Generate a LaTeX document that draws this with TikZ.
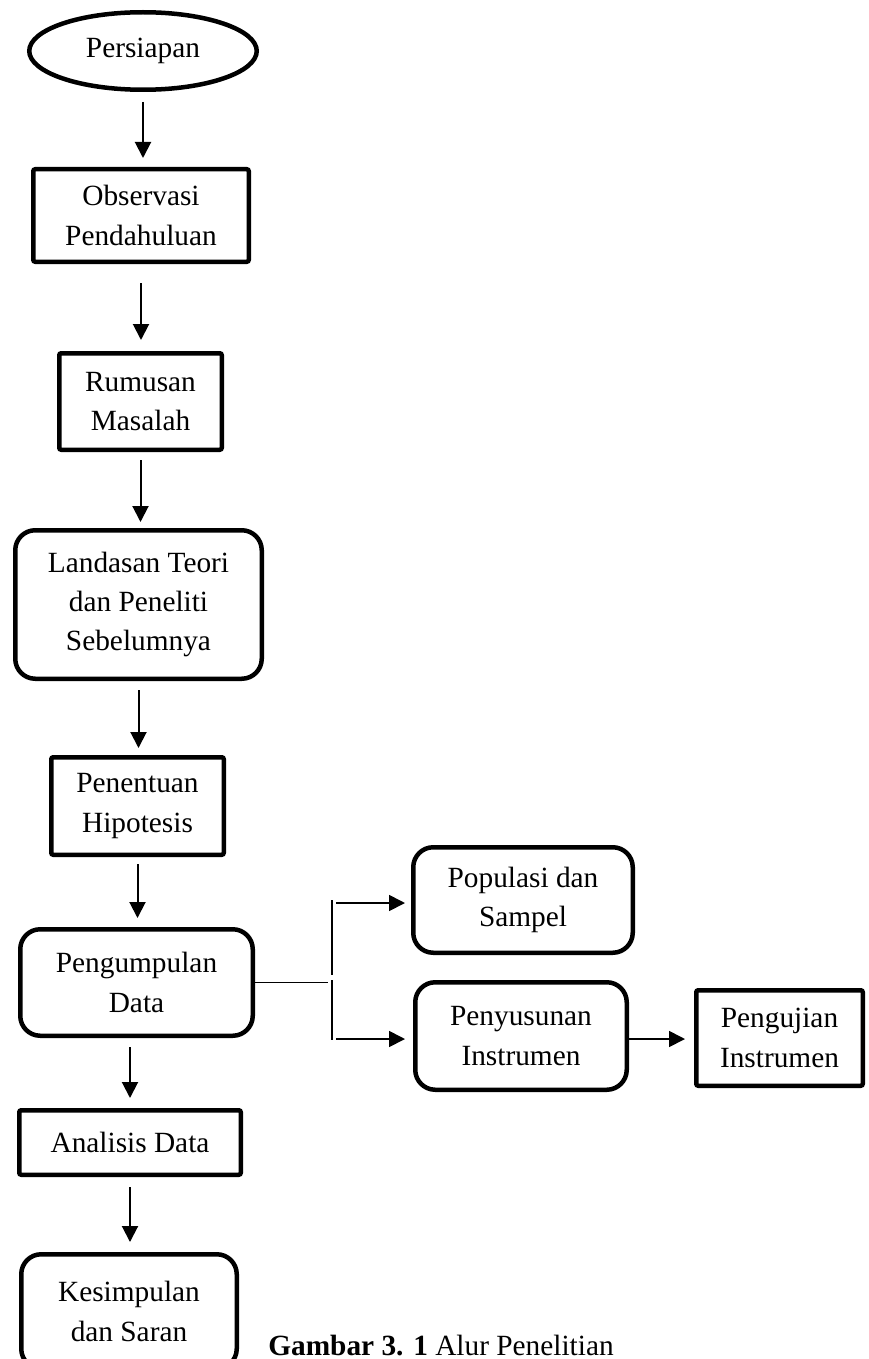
\documentclass[tikz,border=0pt]{standalone}
\usepackage{fontspec}
\setmainfont{Liberation Serif}
\usetikzlibrary{arrows.meta,shapes.geometric}
\newlength\pxu
\setlength\pxu{0.75pt}
\begin{document}
\begin{tikzpicture}[x=0.75pt,y=-0.75pt,
  box/.style={draw, line width=4.5\pxu, inner sep=0pt, align=center,
    font=\fontsize{22pt}{29.5pt}\selectfont},
  rbox/.style={box, rounded corners=15pt},
  sbox/.style={box, rounded corners=1.5pt},
  obox/.style={box, ellipse},
  arr/.style={line width=2\pxu, -{Triangle[length=12pt,width=12pt]}},
  ln/.style={line width=1.7\pxu}]
\useasboundingbox (0,0) rectangle (868,1359);

\node[obox, minimum width=227.5\pxu, minimum height=77.5\pxu] (persiapan) at (143,51) {Persiapan};
\node[sbox, minimum width=215.5\pxu, minimum height=92.5\pxu] (observasi) at (141,215.5) {Observasi\\Pendahuluan};
\node[sbox, minimum width=162.5\pxu, minimum height=96.5\pxu] (rumusan) at (140.5,401.5) {Rumusan\\Masalah};
\node[rbox, minimum width=246.5\pxu, minimum height=148.5\pxu] (landasan) at (138.5,604.5) {Landasan Teori\\dan Peneliti\\Sebelumnya};
\node[sbox, minimum width=172.5\pxu, minimum height=97.5\pxu] (penentuan) at (137.5,806) {Penentuan\\Hipotesis};
\node[rbox, minimum width=232.5\pxu, minimum height=106.5\pxu] (pengumpulan) at (136.5,982.5) {Pengumpulan\\Data};
\node[sbox, minimum width=221.5\pxu, minimum height=64.5\pxu] (analisis) at (130,1142.5) {Analisis Data};
\node[rbox, minimum width=215.5\pxu, minimum height=114.5\pxu] (kesimpulan) at (129,1311.5) {Kesimpulan\\dan Saran};
\node[rbox, minimum width=219.5\pxu, minimum height=105.5\pxu] (populasi) at (523,900) {Populasi dan\\Sampel};
\node[rbox, minimum width=211.5\pxu, minimum height=107.5\pxu] (penyusunan) at (521,1036) {Penyusunan\\Instrumen};
\node[sbox, minimum width=166.5\pxu, minimum height=95.5\pxu] (pengujian) at (779.5,1038) {Pengujian\\Instrumen};

\node[anchor=base west, inner sep=0pt, font=\fontsize{22pt}{29.5pt}\selectfont] (caption) at (268,1355) {\textbf{Gambar 3. 1} Alur Penelitian};

% main vertical flow
\draw[arr, shorten <=7.5pt, shorten >=6.75pt] (persiapan.south) -- (persiapan.south |- observasi.north);
\draw[arr, shorten <=14.25pt, shorten >=8.25pt] (observasi.south) -- (observasi.south |- rumusan.north);
\draw[arr, shorten <=6pt, shorten >=4.5pt] (rumusan.south) -- (rumusan.south |- landasan.north);
\draw[arr, shorten <=6.75pt, shorten >=5.25pt] (landasan.south) -- (landasan.south |- penentuan.north);
\draw[arr, shorten <=5.25pt, shorten >=6.75pt] (penentuan.south) -- (penentuan.south |- pengumpulan.north);
\draw[arr, shorten <=6.75pt, shorten >=7.5pt] (analisis.north |- pengumpulan.south) -- (analisis.north);
\draw[arr, shorten <=7.5pt, shorten >=7.5pt] (analisis.south) -- (analisis.south |- kesimpulan.north);

% branch
\coordinate (hj) at (328,982);
\coordinate (jt) at (332,900);
\coordinate (jm1) at (332,975);
\coordinate (jm2) at (332,980);
\coordinate (jb) at (332,1040);
\coordinate (a1) at (336,903);
\coordinate (a2) at (336,1039);
\draw[ln] (pengumpulan.east) -- (pengumpulan.east -| hj);
\draw[ln] (jt) -- (jm1);
\draw[ln] (jm2) -- (jb);
\draw[arr, line width=1.7\pxu, shorten >=4.5pt] (a1) -- (a1 -| populasi.west);
\draw[arr, line width=1.7\pxu, shorten >=6pt] (a2) -- (a2 -| penyusunan.west);
\draw[arr, line width=1.7\pxu, shorten >=6.75pt] (penyusunan.east |- a2) -- (pengujian.west |- a2);
\end{tikzpicture}
\end{document}
